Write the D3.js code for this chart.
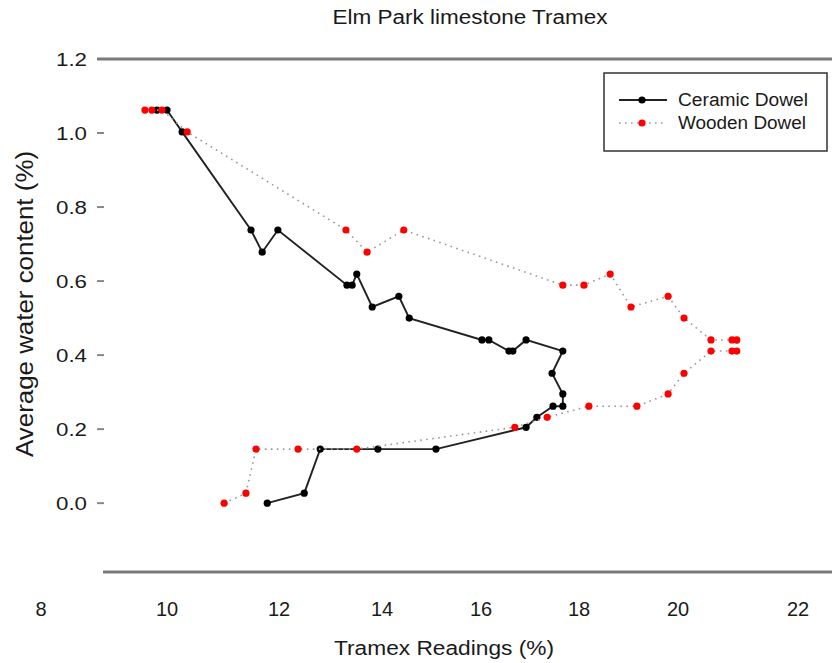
<!DOCTYPE html>
<html><head><meta charset="utf-8">
<script src="https://cdn.jsdelivr.net/npm/d3@7"></script>
<style>
body{margin:0;background:#fff}
svg{display:block}
text{font-family:"Liberation Sans",Arial,sans-serif;fill:#1a1a1a}
</style>
</head><body>
<svg id="c" width="832" height="663"></svg>
<script>
// ---------- data ----------
const title = "Elm Park limestone Tramex";
const xLabel = "Tramex Readings (%)";
const yLabel = "Average water content (%)";
const seriesNames = ["Ceramic Dowel", "Wooden Dowel"];
const xTickValues = [8, 10, 12, 14, 16, 18, 20, 22];
const yTickValues = [0, 0.2, 0.4, 0.6, 0.8, 1.0, 1.2];

const ceramicX = [11.79, 12.49, 12.80, 13.92, 15.09, 16.92, 17.14, 17.47, 17.67, 17.67,
                  17.45, 17.67, 16.92, 16.65, 16.57, 16.16, 16.02, 14.55, 14.34, 13.81,
                  13.51, 13.42, 13.32, 11.98, 11.70, 11.50, 10.27, 10.00, 9.84];
const ceramicY = [0.000, 0.027, 0.146, 0.146, 0.146, 0.205, 0.232, 0.262, 0.262, 0.295,
                  0.351, 0.411, 0.441, 0.411, 0.411, 0.441, 0.441, 0.500, 0.559, 0.530,
                  0.619, 0.589, 0.589, 0.738, 0.678, 0.738, 1.003, 1.062, 1.062];

const woodenX = [11.02, 11.41, 11.59, 12.37, 13.51, 16.69, 17.35, 18.20, 19.17, 19.80,
                 20.10, 20.55, 20.90, 20.98, 20.98, 20.90, 20.55, 20.10, 19.80, 19.05,
                 18.63, 18.10, 17.67, 14.44, 13.71, 13.30, 10.36, 9.92, 9.76, 9.65];
const woodenY = [0.000, 0.027, 0.146, 0.146, 0.146, 0.205, 0.232, 0.262, 0.262, 0.295,
                 0.351, 0.411, 0.411, 0.411, 0.441, 0.441, 0.441, 0.500, 0.559, 0.530,
                 0.619, 0.589, 0.589, 0.738, 0.678, 0.738, 1.003, 1.062, 1.062, 1.062];

// ---------- layout ----------
const svg = d3.select("#c");
const x = d3.scaleLinear().domain(xTickValues).range([41, 167, 279, 382, 481, 579, 678, 798]);
const y = d3.scaleLinear().domain([-0.186, 1.2]).range([572, 59]);

const ceramic = ceramicX.map((v, i) => ({x: v, y: ceramicY[i]}));
const wooden = woodenX.map((v, i) => ({x: v, y: woodenY[i]}));

// frame lines (top & bottom)
svg.append("line").attr("x1", 97).attr("x2", 832).attr("y1", y(1.2)).attr("y2", y(1.2))
  .attr("stroke", "#7a7a7a").attr("stroke-width", 3);
svg.append("line").attr("x1", 103).attr("x2", 832).attr("y1", y(-0.186)).attr("y2", y(-0.186))
  .attr("stroke", "#7a7a7a").attr("stroke-width", 3);

// y ticks
yTickValues.filter(v => v < 1.2).forEach(v => {
  svg.append("line").attr("x1", 97).attr("x2", 104).attr("y1", y(v)).attr("y2", y(v))
    .attr("stroke", "#888").attr("stroke-width", 2);
});
yTickValues.forEach(v => {
  svg.append("text").attr("x", 87).attr("y", y(v)).attr("dy", "0.36em")
    .attr("text-anchor", "end").attr("font-size", 19)
    .attr("textLength", 31).attr("lengthAdjust", "spacingAndGlyphs")
    .text(d3.format(".1f")(v));
});

// x tick labels
xTickValues.forEach(v => {
  svg.append("text").attr("x", x(v)).attr("y", 616)
    .attr("text-anchor", "middle").attr("font-size", 20)
    .text(v);
});

// titles
svg.append("text").attr("x", 470).attr("y", 24).attr("text-anchor", "middle")
  .attr("font-size", 20).attr("textLength", 275).attr("lengthAdjust", "spacingAndGlyphs")
  .text(title);
svg.append("text").attr("x", 444).attr("y", 655).attr("text-anchor", "middle")
  .attr("font-size", 20).attr("textLength", 220).attr("lengthAdjust", "spacingAndGlyphs")
  .text(xLabel);
svg.append("text").attr("transform", "translate(33,304) scale(1.15,1) rotate(-90)")
  .attr("text-anchor", "middle").attr("font-size", 21)
  .attr("textLength", 306).attr("lengthAdjust", "spacingAndGlyphs")
  .text(yLabel);

// series
const line = d3.line().x(d => x(d.x)).y(d => y(d.y));
svg.append("path").datum(ceramic).attr("d", line).attr("fill", "none")
  .attr("stroke", "#222").attr("stroke-width", 1.9);
svg.append("g").selectAll("circle").data(ceramic).join("circle")
  .attr("cx", d => x(d.x)).attr("cy", d => y(d.y)).attr("r", 3.6).attr("fill", "#000");

svg.append("path").datum(wooden).attr("d", line).attr("fill", "none")
  .attr("stroke", "#999").attr("stroke-width", 1.6).attr("stroke-dasharray", "1.6,4.4");
svg.append("g").selectAll("circle").data(wooden).join("circle")
  .attr("cx", d => x(d.x)).attr("cy", d => y(d.y)).attr("r", 3.6).attr("fill", "#ff0000");

// legend
const lg = svg.append("g");
lg.append("rect").attr("x", 604).attr("y", 73).attr("width", 223).attr("height", 78)
  .attr("fill", "#fff").attr("stroke", "#333").attr("stroke-width", 1.5);
const rows = [
  {name: seriesNames[0], stroke: "#222", dash: null, sw: 1.9, fill: "#000", yy: 100, len: 130},
  {name: seriesNames[1], stroke: "#999", dash: "1.6,4.4", sw: 1.6, fill: "#ff0000", yy: 123, len: 128}
];
rows.forEach(r => {
  lg.append("line").attr("x1", 619).attr("x2", 667).attr("y1", r.yy).attr("y2", r.yy)
    .attr("stroke", r.stroke).attr("stroke-width", r.sw).attr("stroke-dasharray", r.dash);
  lg.append("circle").attr("cx", 642).attr("cy", r.yy).attr("r", 3.6).attr("fill", r.fill);
  lg.append("text").attr("x", 678).attr("y", r.yy).attr("dy", "0.36em").attr("font-size", 18)
    .attr("textLength", r.len).attr("lengthAdjust", "spacingAndGlyphs").text(r.name);
});
</script>
</body></html>
